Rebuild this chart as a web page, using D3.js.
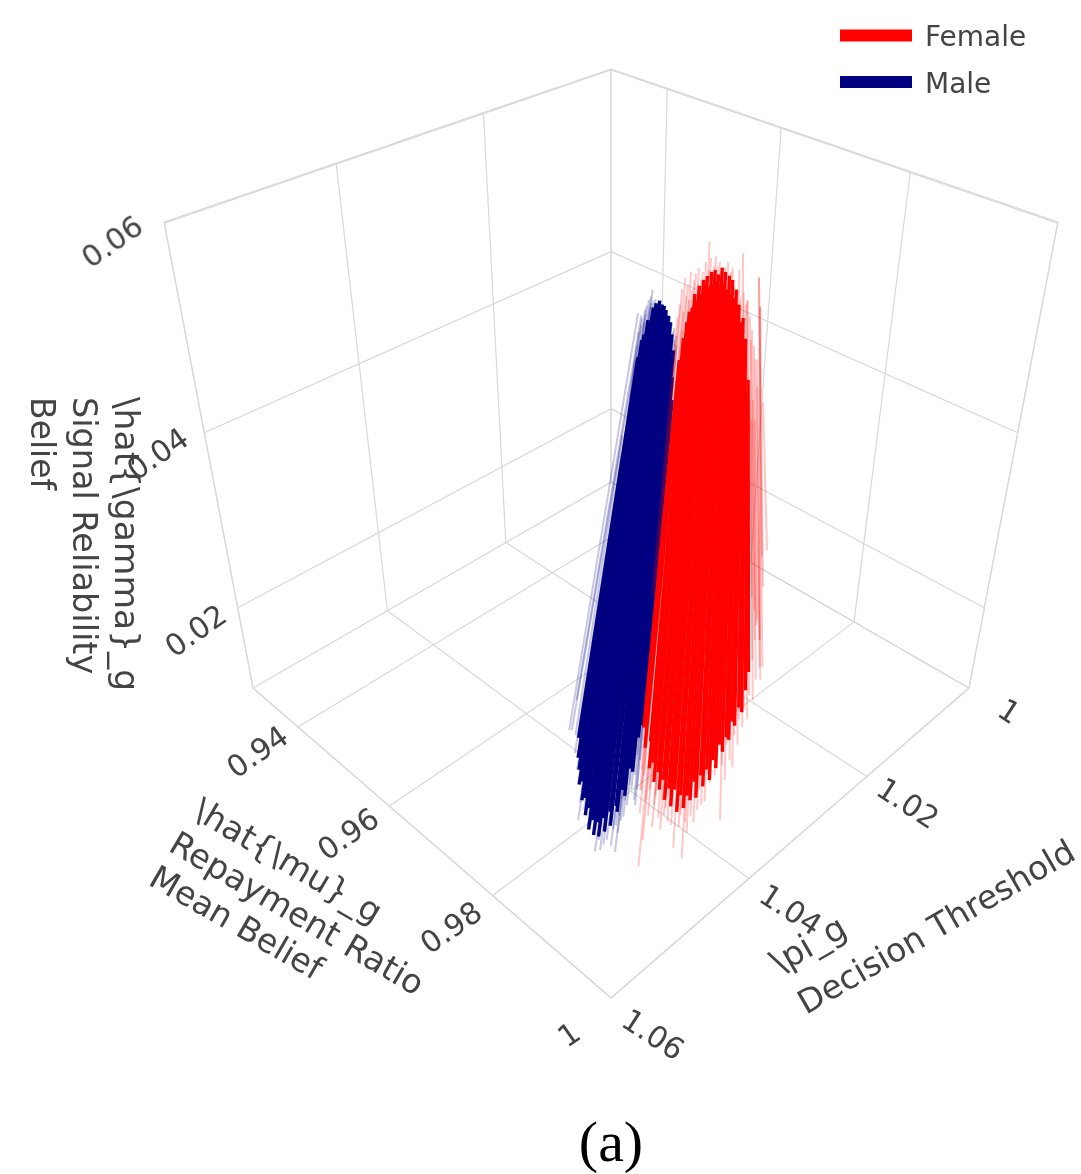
<!DOCTYPE html>
<html>
<head>
<meta charset="utf-8">
<script src="https://cdn.jsdelivr.net/npm/d3@7"></script>
<style>
	body { margin: 0; background: #fff; }
	text { font-family: "DejaVu Sans", sans-serif; fill: #444; }
</style>
</head>
<body>
<div id="chart-area"></div>
<script>
const piTicks = [1, 1.02, 1.04, 1.06]
const muTicks = [0.94, 0.96, 0.98, 1]
const gammaTicks = [0.02, 0.04, 0.06]
const piRange = [1, 1.06]
const muRange = [0.9292, 1]
const gammaRange = [0.0096, 0.0601]
const legendNames = ['Female', 'Male']

// each strand: pi, mu, gamma at its upper end, then pi, mu, gamma at its lower end
// "dense" strands are the packed middle of a group, "sparse" ones the pale ends and outliers
const maleDense = [
	[1.0329,.9723,.0509,1.0476,.9799,.0209],[1.0322,.9721,.0522,1.0482,.9805,.0192],[1.0319,.9721,.0526,1.0485,.9810,.0182],
	[1.0313,.9720,.0537,1.0489,.9815,.0169],[1.0312,.9721,.0535,1.0486,.9817,.0172],[1.0306,.9720,.0546,1.0492,.9823,.0156],
	[1.0308,.9722,.0541,1.0489,.9825,.0158],[1.0303,.9721,.0549,1.0494,.9831,.0143],[1.0304,.9723,.0544,1.0489,.9832,.0149],
	[1.0300,.9723,.0551,1.0496,.9839,.0131],[1.0302,.9725,.0545,1.0490,.9839,.0139],[1.0299,.9726,.0548,1.0494,.9845,.0126],
	[1.0301,.9728,.0543,1.0487,.9844,.0137],[1.0298,.9728,.0547,1.0491,.9850,.0125],[1.0301,.9731,.0540,1.0482,.9848,.0141],
	[1.0298,.9731,.0544,1.0485,.9853,.0129],[1.0300,.9734,.0537,1.0475,.9851,.0146],[1.0298,.9735,.0540,1.0479,.9856,.0134],
	[1.0301,.9738,.0531,1.0469,.9854,.0151],[1.0298,.9738,.0535,1.0470,.9857,.0146],[1.0303,.9744,.0520,1.0460,.9854,.0165],
	[1.0300,.9743,.0526,1.0460,.9858,.0160],[1.0306,.9750,.0510,1.0448,.9853,.0183],[1.0303,.9749,.0514,1.0447,.9856,.0180],
	[1.0311,.9757,.0494,1.0433,.9849,.0209],[1.0317,.9764,.0477,1.0427,.9847,.0219]
]
const maleSparse = [
	[1.0318,.9710,.0542,1.0480,.9788,.0215],[1.0316,.9713,.0540,1.0466,.9784,.0240],[1.0332,.9722,.0507,1.0478,.9790,.0215],
	[1.0300,.9750,.0518,1.0449,.9866,.0165],[1.0302,.9750,.0514,1.0455,.9870,.0152],[1.0309,.9761,.0492,1.0438,.9858,.0190],
	[1.0322,.9770,.0462,1.0454,.9867,.0156],[1.0327,.9719,.0518,1.0420,.9775,.0317],[1.0322,.9716,.0528,1.0415,.9772,.0328],
	[1.0319,.9716,.0533,1.0411,.9772,.0333],[1.0316,.9714,.0538,1.0408,.9770,.0339],[1.0316,.9717,.0535,1.0408,.9774,.0336],
	[1.0312,.9714,.0544,1.0404,.9771,.0345],[1.0313,.9716,.0541,1.0404,.9773,.0342],[1.0310,.9714,.0547,1.0401,.9771,.0349],
	[1.0307,.9714,.0551,1.0397,.9771,.0353],[1.0308,.9717,.0546,1.0399,.9775,.0347],[1.0305,.9715,.0554,1.0395,.9775,.0357],
	[1.0306,.9717,.0549,1.0396,.9775,.0351],[1.0302,.9714,.0559,1.0391,.9772,.0361],[1.0304,.9718,.0551,1.0393,.9776,.0353],
	[1.0304,.9721,.0547,1.0394,.9779,.0349],[1.0302,.9719,.0552,1.0392,.9778,.0354],[1.0303,.9722,.0548,1.0392,.9781,.0349],
	[1.0302,.9722,.0549,1.0392,.9781,.0351],[1.0303,.9725,.0544,1.0392,.9784,.0345],[1.0301,.9724,.0548,1.0390,.9783,.0350],
	[1.0301,.9726,.0545,1.0390,.9786,.0346],[1.0300,.9726,.0547,1.0389,.9786,.0349],[1.0300,.9729,.0543,1.0389,.9788,.0345],
	[1.0299,.9728,.0546,1.0387,.9788,.0348],[1.0300,.9731,.0541,1.0388,.9791,.0342],[1.0298,.9731,.0544,1.0386,.9791,.0345],
	[1.0299,.9733,.0540,1.0387,.9794,.0341],[1.0298,.9733,.0542,1.0386,.9794,.0343],[1.0298,.9736,.0537,1.0386,.9797,.0338],
	[1.0297,.9736,.0539,1.0385,.9797,.0340],[1.0299,.9740,.0532,1.0387,.9801,.0333],[1.0297,.9739,.0535,1.0385,.9801,.0336],
	[1.0299,.9743,.0528,1.0387,.9805,.0328],[1.0297,.9743,.0531,1.0385,.9805,.0331],[1.0300,.9747,.0522,1.0387,.9810,.0321],
	[1.0298,.9747,.0525,1.0385,.9809,.0325],[1.0365,.9740,.0437,1.0483,.9801,.0196],[1.0360,.9735,.0450,1.0477,.9795,.0211],
	[1.0369,.9747,.0424,1.0486,.9808,.0182],[1.0372,.9753,.0412,1.0490,.9814,.0169],[1.0381,.9764,.0385,1.0501,.9827,.0139],
	[1.0376,.9760,.0398,1.0494,.9822,.0154],[1.0372,.9757,.0407,1.0490,.9820,.0163],[1.0376,.9764,.0393,1.0493,.9828,.0148],
	[1.0372,.9762,.0400,1.0489,.9826,.0156],[1.0380,.9773,.0377,1.0497,.9838,.0131],[1.0375,.9769,.0389,1.0491,.9834,.0143],
	[1.0376,.9773,.0381,1.0493,.9839,.0135],[1.0372,.9770,.0391,1.0488,.9837,.0146],[1.0381,.9784,.0360,1.0498,.9852,.0112],
	[1.0375,.9778,.0377,1.0491,.9845,.0131],[1.0377,.9782,.0369,1.0492,.9851,.0122],[1.0379,.9787,.0361,1.0494,.9856,.0113],
	[1.0376,.9780,.0379,1.0487,.9849,.0132],[1.0376,.9787,.0365,1.0490,.9857,.0118],[1.0371,.9784,.0375,1.0485,.9854,.0129],
	[1.0372,.9788,.0369,1.0486,.9858,.0122],[1.0368,.9784,.0380,1.0480,.9855,.0134],[1.0372,.9792,.0364,1.0485,.9864,.0117],
	[1.0367,.9788,.0377,1.0478,.9860,.0131],[1.0372,.9796,.0360,1.0484,.9870,.0112],[1.0364,.9788,.0381,1.0475,.9861,.0135],
	[1.0365,.9792,.0375,1.0476,.9865,.0128],[1.0360,.9787,.0389,1.0470,.9860,.0143],[1.0360,.9789,.0385,1.0470,.9863,.0138],
	[1.0358,.9790,.0387,1.0467,.9864,.0142],[1.0353,.9785,.0400,1.0461,.9860,.0156],[1.0353,.9788,.0397,1.0461,.9863,.0152],
	[1.0347,.9783,.0412,1.0453,.9858,.0169],[1.0347,.9785,.0408,1.0453,.9861,.0165],[1.0341,.9780,.0424,1.0446,.9856,.0182],
	[1.0341,.9783,.0420,1.0446,.9859,.0177],[1.0335,.9778,.0435,1.0439,.9854,.0194]
]
const femaleDense = [
	[1.0302,.9757,.0507,1.0426,.9850,.0217],[1.0293,.9753,.0523,1.0431,.9858,.0200],[1.0287,.9751,.0535,1.0424,.9859,.0204],
	[1.0283,.9750,.0543,1.0434,.9869,.0183],[1.0280,.9751,.0546,1.0430,.9870,.0188],[1.0275,.9749,.0556,1.0435,.9878,.0172],
	[1.0275,.9752,.0551,1.0429,.9878,.0180],[1.0270,.9750,.0562,1.0433,.9885,.0165],[1.0271,.9753,.0556,1.0427,.9885,.0173],
	[1.0265,.9751,.0566,1.0432,.9893,.0156],[1.0267,.9755,.0559,1.0426,.9893,.0166],[1.0262,.9753,.0569,1.0430,.9901,.0151],
	[1.0264,.9757,.0561,1.0422,.9898,.0165],[1.0258,.9755,.0572,1.0427,.9908,.0146],[1.0261,.9759,.0563,1.0419,.9905,.0160],
	[1.0255,.9757,.0573,1.0421,.9912,.0149],[1.0257,.9761,.0565,1.0415,.9911,.0160],[1.0254,.9761,.0570,1.0414,.9915,.0156],
	[1.0256,.9766,.0561,1.0406,.9912,.0172],[1.0250,.9762,.0575,1.0409,.9919,.0158],[1.0253,.9768,.0563,1.0399,.9915,.0177],
	[1.0249,.9766,.0572,1.0401,.9921,.0168],[1.0252,.9773,.0559,1.0393,.9918,.0182],[1.0247,.9770,.0569,1.0394,.9924,.0173],
	[1.0251,.9777,.0556,1.0386,.9920,.0190],[1.0246,.9774,.0566,1.0386,.9925,.0183],[1.0250,.9781,.0553,1.0377,.9920,.0203],
	[1.0246,.9780,.0559,1.0377,.9925,.0197],[1.0249,.9786,.0548,1.0370,.9923,.0209],[1.0248,.9787,.0548,1.0369,.9926,.0207],
	[1.0251,.9794,.0535,1.0361,.9922,.0222],[1.0248,.9794,.0538,1.0361,.9926,.0219],[1.0254,.9804,.0518,1.0353,.9923,.0234],
	[1.0252,.9803,.0523,1.0352,.9927,.0230],[1.0264,.9821,.0485,1.0343,.9922,.0248],[1.0260,.9818,.0492,1.0336,.9918,.0263]
]
const femaleSparse = [
	[1.0292,.9750,.0529,1.0440,.9863,.0182],[1.0308,.9761,.0492,1.0417,.9842,.0240],[1.0301,.9758,.0507,1.0430,.9855,.0207],
	[1.0351,.9800,.0385,1.0447,.9869,.0165],[1.0228,.9794,.0568,1.0325,.9928,.0267],[1.0256,.9838,.0475,1.0291,.9891,.0361],
	[1.0234,.9804,.0546,1.0319,.9916,.0289],[1.0249,.9819,.0507,1.0330,.9931,.0257],[1.0249,.9808,.0522,1.0323,.9912,.0289],
	[1.0264,.9826,.0477,1.0330,.9917,.0273],[1.0241,.9792,.0551,1.0317,.9892,.0321],[1.0266,.9837,.0462,1.0316,.9907,.0305],
	[1.0292,.9742,.0539,1.0383,.9812,.0324],[1.0287,.9740,.0548,1.0378,.9810,.0333],[1.0282,.9737,.0559,1.0372,.9808,.0345],
	[1.0287,.9745,.0543,1.0377,.9816,.0328],[1.0277,.9736,.0568,1.0366,.9807,.0356],[1.0281,.9742,.0554,1.0370,.9814,.0341],
	[1.0277,.9740,.0562,1.0365,.9813,.0349],[1.0280,.9746,.0551,1.0368,.9819,.0337],[1.0272,.9739,.0572,1.0359,.9812,.0360],
	[1.0276,.9745,.0559,1.0362,.9819,.0345],[1.0272,.9744,.0566,1.0358,.9818,.0353],[1.0275,.9749,.0556,1.0361,.9819,.0342],
	[1.0269,.9743,.0571,1.0354,.9818,.0359],[1.0270,.9748,.0563,1.0355,.9824,.0350],[1.0266,.9744,.0575,1.0350,.9820,.0363],
	[1.0267,.9749,.0566,1.0351,.9826,.0353],[1.0264,.9748,.0572,1.0347,.9826,.0360],[1.0267,.9753,.0562,1.0350,.9831,.0349],
	[1.0259,.9747,.0579,1.0341,.9826,.0368],[1.0263,.9753,.0567,1.0345,.9832,.0355],[1.0259,.9752,.0573,1.0341,.9832,.0361],
	[1.0252,.9744,.0594,1.0332,.9823,.0383],[1.0255,.9750,.0582,1.0336,.9830,.0371],[1.0258,.9756,.0570,1.0339,.9837,.0358],
	[1.0255,.9755,.0576,1.0335,.9835,.0364],[1.0258,.9760,.0566,1.0338,.9842,.0353],[1.0251,.9753,.0583,1.0330,.9835,.0373],
	[1.0253,.9758,.0576,1.0332,.9840,.0364],[1.0254,.9762,.0570,1.0332,.9845,.0357],[1.0250,.9758,.0579,1.0328,.9842,.0368],
	[1.0251,.9763,.0573,1.0328,.9847,.0360],[1.0253,.9767,.0565,1.0330,.9852,.0352],[1.0248,.9764,.0575,1.0325,.9849,.0363],
	[1.0250,.9768,.0568,1.0326,.9853,.0356],[1.0245,.9765,.0579,1.0320,.9851,.0368],[1.0249,.9772,.0563,1.0325,.9859,.0350],
	[1.0245,.9770,.0572,1.0320,.9857,.0360],[1.0243,.9770,.0575,1.0317,.9858,.0363],[1.0246,.9777,.0562,1.0321,.9865,.0349],
	[1.0245,.9781,.0559,1.0317,.9872,.0345],[1.0239,.9776,.0573,1.0312,.9866,.0361],[1.0245,.9786,.0553,1.0317,.9878,.0339],
	[1.0233,.9774,.0586,1.0303,.9865,.0375],[1.0242,.9787,.0557,1.0313,.9879,.0343],[1.0243,.9792,.0548,1.0314,.9886,.0333],
	[1.0241,.9792,.0551,1.0311,.9886,.0337],[1.0243,.9799,.0539,1.0314,.9895,.0324],[1.0245,.9805,.0529,1.0315,.9901,.0313],
	[1.0248,.9812,.0518,1.0318,.9908,.0301],[1.0249,.9816,.0507,1.0320,.9916,.0289],[1.0228,.9794,.0568,1.0296,.9889,.0356],
	[1.0234,.9804,.0546,1.0303,.9900,.0332],[1.0372,.9820,.0332,1.0471,.9895,.0099],[1.0356,.9803,.0375,1.0454,.9877,.0145],
	[1.0349,.9796,.0393,1.0446,.9870,.0165],[1.0362,.9814,.0353,1.0460,.9889,.0122],[1.0344,.9793,.0404,1.0440,.9867,.0177],
	[1.0349,.9802,.0385,1.0446,.9877,.0156],[1.0352,.9808,.0373,1.0449,.9885,.0143],[1.0344,.9801,.0393,1.0440,.9877,.0165],
	[1.0353,.9815,.0364,1.0449,.9892,.0133],[1.0346,.9809,.0381,1.0441,.9886,.0152],[1.0343,.9807,.0389,1.0437,.9884,.0160],
	[1.0348,.9815,.0371,1.0442,.9894,.0141],[1.0350,.9821,.0361,1.0444,.9900,.0131],[1.0341,.9812,.0385,1.0434,.9891,.0156],
	[1.0344,.9818,.0373,1.0437,.9898,.0143],[1.0341,.9817,.0379,1.0434,.9897,.0149],[1.0344,.9822,.0369,1.0436,.9903,.0137],
	[1.0336,.9814,.0389,1.0428,.9895,.0160],[1.0343,.9826,.0365,1.0435,.9908,.0135],[1.0348,.9835,.0347,1.0440,.9918,.0115],
	[1.0337,.9824,.0375,1.0428,.9907,.0146],[1.0333,.9821,.0385,1.0423,.9904,.0156],[1.0340,.9831,.0364,1.0430,.9915,.0133],
	[1.0333,.9828,.0373,1.0425,.9912,.0143],[1.0346,.9844,.0339,1.0437,.9929,.0106],[1.0331,.9827,.0381,1.0420,.9912,.0152],
	[1.0335,.9833,.0368,1.0424,.9919,.0137],[1.0337,.9838,.0359,1.0426,.9924,.0128],[1.0327,.9828,.0385,1.0415,.9914,.0156],
	[1.0330,.9835,.0373,1.0418,.9921,.0143],[1.0331,.9838,.0367,1.0418,.9926,.0137],[1.0323,.9830,.0389,1.0409,.9917,.0160],
	[1.0326,.9837,.0377,1.0412,.9925,.0148],[1.0319,.9831,.0393,1.0404,.9919,.0165],[1.0322,.9837,.0381,1.0407,.9926,.0152],
	[1.0316,.9832,.0397,1.0400,.9921,.0169],[1.0319,.9839,.0383,1.0404,.9928,.0155],[1.0311,.9831,.0404,1.0394,.9920,.0177],
	[1.0312,.9835,.0398,1.0395,.9926,.0171],[1.0305,.9829,.0416,1.0387,.9919,.0190],[1.0307,.9836,.0404,1.0389,.9927,.0177],
	[1.0300,.9829,.0424,1.0380,.9920,.0198],[1.0316,.9854,.0369,1.0398,.9948,.0139],[1.0301,.9837,.0412,1.0381,.9929,.0186],
	[1.0303,.9844,.0400,1.0383,.9937,.0173],[1.0293,.9833,.0427,1.0372,.9926,.0203],[1.0296,.9839,.0416,1.0374,.9934,.0190],
	[1.0296,.9843,.0410,1.0374,.9939,.0184],[1.0287,.9834,.0435,1.0364,.9929,.0211],[1.0288,.9839,.0427,1.0364,.9935,.0203],
	[1.0281,.9832,.0447,1.0356,.9927,.0224],[1.0281,.9836,.0441,1.0356,.9933,.0218],[1.0276,.9832,.0454,1.0350,.9928,.0232],
	[1.0277,.9837,.0447,1.0350,.9934,.0224],[1.0269,.9830,.0466,1.0342,.9927,.0244],[1.0268,.9834,.0462,1.0341,.9932,.0240],
	[1.0262,.9829,.0477,1.0333,.9927,.0257],[1.0256,.9828,.0487,1.0327,.9926,.0267]
]

// CAMERA: perspective terms of the view, in pixels
const camera = { cx: 611, side: 358, floor: 688, depth: 108.6, rise: -510.2, depthFall: -0.2018, riseFall: -0.199 }

let piScale = d3.scaleLinear().domain(piRange).range([0, 1])
let muScale = d3.scaleLinear().domain(muRange).range([0, 1])
let gammaScale = d3.scaleLinear().domain(gammaRange).range([0, 1])

const project = (pi, mu, gamma) => {
	let a = piScale(pi), b = muScale(mu), w = gammaScale(gamma)
	let s = b - a, t = a + b - 1
	let d = 1 + camera.depthFall * t + camera.riseFall * w
	return [camera.cx + camera.side * s / d, (camera.floor + camera.depth * t + camera.rise * w) / d]
}

let svg = d3.select('#chart-area').append('svg')
	.attr('width', 1081)
	.attr('height', 1174)
	.style('display', 'block')

let plot = svg.append('g').style('filter', 'blur(0.6px)')
let line = d3.line()

// GRID AND BOX

const [piMin, piMax] = piRange, [muMin, muMax] = muRange, [zMin, zMax] = gammaRange
let segments = []
piTicks.forEach(p => {
	segments.push([[p, muMin, zMin], [p, muMax, zMin]])
	segments.push([[p, muMin, zMin], [p, muMin, zMax]])
})
muTicks.forEach(m => {
	segments.push([[piMin, m, zMin], [piMax, m, zMin]])
	segments.push([[piMin, m, zMin], [piMin, m, zMax]])
})
gammaTicks.forEach(z => {
	segments.push([[piMin, muMin, z], [piMax, muMin, z]])
	segments.push([[piMin, muMin, z], [piMin, muMax, z]])
})
segments.push([[piMin, muMin, zMin], [piMax, muMin, zMin]], [[piMin, muMin, zMin], [piMin, muMax, zMin]],
	[[piMax, muMin, zMin], [piMax, muMax, zMin]], [[piMin, muMax, zMin], [piMax, muMax, zMin]],
	[[piMin, muMin, zMin], [piMin, muMin, zMax]], [[piMax, muMin, zMin], [piMax, muMin, zMax]], [[piMin, muMax, zMin], [piMin, muMax, zMax]],
	[[piMin, muMin, zMax], [piMax, muMin, zMax]], [[piMin, muMin, zMax], [piMin, muMax, zMax]])

plot.append('g').selectAll('path').data(segments).enter().append('path')
	.attr('d', d => line(d.map(p => project(...p))))
	.attr('fill', 'none')
	.attr('stroke', '#d8d8d8')
	.attr('stroke-width', 1.2)

// STRANDS

const drawStrands = (data, color, width, opacity) => {
	plot.append('g').selectAll('path').data(data).enter().append('path')
		.attr('d', d => line([project(d[0], d[1], d[2]), project(d[3], d[4], d[5])]))
		.attr('fill', 'none')
		.attr('stroke', color)
		.attr('stroke-width', width)
		.attr('opacity', opacity)
}
drawStrands(maleSparse, 'navy', 2, 0.22)
drawStrands(maleDense, 'navy', 3.4, 1)
drawStrands(femaleSparse, 'red', 2, 0.22)
drawStrands(femaleDense, 'red', 3.4, 1)

// LABELS

const addLabel = (text, x, y, angle, size, anchor) => {
	plot.append('text')
		.attr('transform', 'translate(' + x + ', ' + y + ') rotate(' + angle + ')')
		.attr('text-anchor', anchor)
		.attr('dominant-baseline', anchor == 'middle' ? 'central' : 'auto')
		.style('font-size', size + 'px')
		.text(text)
}
const labelPi = 1.0655, labelMu = 1.0065
gammaTicks.forEach(z => {
	let p = project(labelPi, muMin, z)
	addLabel(String(z), p[0], p[1], -35, 30, 'middle')
})
muTicks.forEach(m => {
	let p = project(labelPi, m, zMin)
	addLabel(String(m), p[0], p[1], -35, 30, 'middle')
})
piTicks.forEach(v => {
	let p = project(v, labelMu, zMin)
	addLabel(String(v), p[0], p[1], 33, 30, 'middle')
})

addLabel('\\hat{\\gamma}_g', 115, 397, 90, 34.5, 'start')
addLabel('Signal Reliability', 73, 397, 90, 33.5, 'start')
addLabel('Belief', 31, 397, 90, 33, 'start')
addLabel('\\hat{\\mu}_g', 191, 817, 30.5, 33.5, 'start')
addLabel('Repayment Ratio', 167, 850, 30.5, 33.5, 'start')
addLabel('Mean Belief', 147, 884, 30, 33, 'start')
addLabel('\\pi_g', 779, 975, -30, 34, 'start')
addLabel('Decision Threshold', 806, 1015, -30, 33, 'start')

// LEGEND

const legendColors = ['red', 'navy']
let legendY = d3.scalePoint().domain(legendNames).range([35.5, 82])
legendNames.forEach((n, i) => {
	plot.append('line')
		.attr('x1', 840).attr('x2', 912)
		.attr('y1', legendY(n)).attr('y2', legendY(n))
		.attr('stroke', legendColors[i])
		.attr('stroke-width', 12)
	plot.append('text')
		.attr('x', 925)
		.attr('y', legendY(n) + 10.5)
		.style('font-size', '28px')
		.text(n)
})

plot.append('text')
	.attr('x', 611)
	.attr('y', 1161)
	.attr('text-anchor', 'middle')
	.style('font-family', '"Liberation Serif", serif')
	.style('font-size', '58px')
	.style('fill', '#000')
	.text('(a)')
</script>
</body>
</html>
